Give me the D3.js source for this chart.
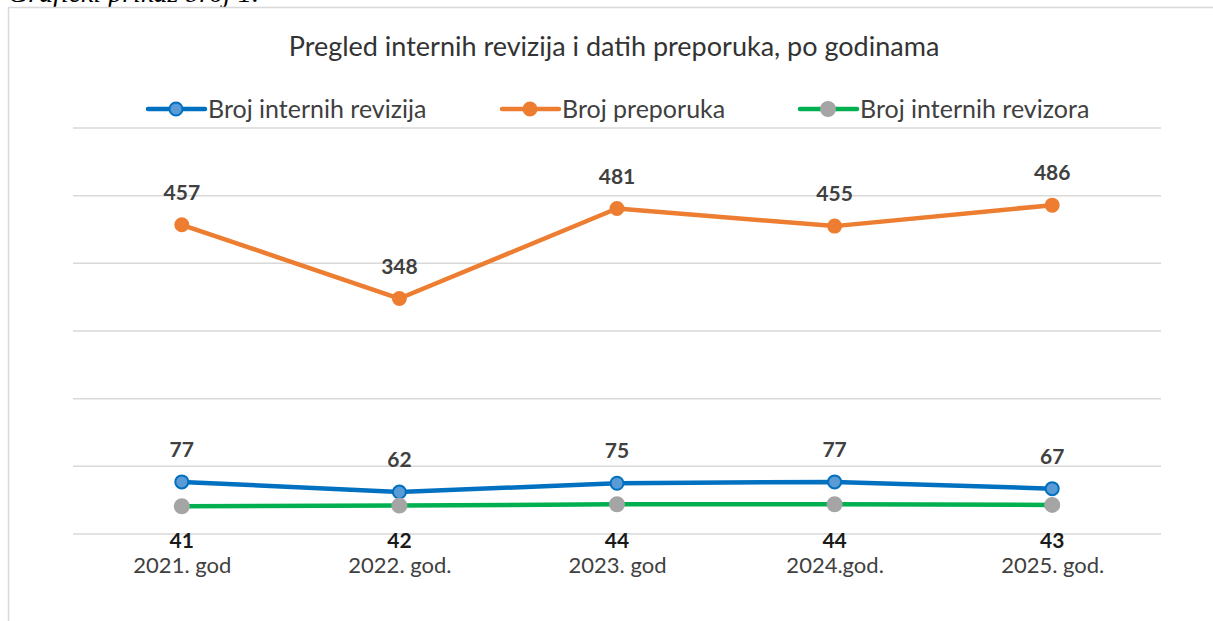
<!DOCTYPE html>
<html>
<head>
    <meta charset="utf-8">
    <title>Pregled internih revizija</title>
    <style>
        body { margin: 0; background: #fff; }
        svg { display: block; font-family: Lato, "Open Sans", sans-serif; }
    </style>
</head>
<body>
    <script src="https://cdnjs.cloudflare.com/ajax/libs/d3/7.8.5/d3.min.js"></script>
    <script>

var years = ["2021. god", "2022. god.", "2023. god", "2024.god.", "2025. god."];
var revizije = [77, 62, 75, 77, 67];
var preporuke = [457, 348, 481, 455, 486];
var revizori = [41, 42, 44, 44, 43];
var yTicks = [0, 100, 200, 300, 400, 500, 600];

var config = {
    width: 1213,
    height: 621,
    left: 73,
    right: 1161,
    top: 128,
    bottom: 534
};

var series = [
    { name: "Broj internih revizija", values: revizije, line: "#0070C0", fill: "#5B9BD5", stroke: "#0070C0", r: 6.5, label: "above", labelColor: "#404040", lx: 148 },
    { name: "Broj preporuka", values: preporuke, line: "#ED7D31", fill: "#ED7D31", stroke: "#ED7D31", r: 6.5, label: "above", labelColor: "#404040", lx: 502 },
    { name: "Broj internih revizora", values: revizori, line: "#00B050", fill: "#A5A5A5", stroke: "#A5A5A5", r: 7, label: "below", labelColor: "#1a1a1a", lx: 800 }
];

var svg = d3.select("body").append("svg")
    .attr("width", config.width)
    .attr("height", config.height);

// caption of the page, cut off at the top like in the source
svg.append("text")
    .attr("x", 8).attr("y", 2)
    .attr("font-family", "'Liberation Serif', serif")
    .attr("font-style", "italic")
    .attr("font-size", 28)
    .attr("fill", "#000")
    .text("Grafički prikaz broj 1.");

// chart box
svg.append("rect")
    .attr("x", 8.5).attr("y", 7.5)
    .attr("width", config.width).attr("height", config.height)
    .attr("fill", "#fff")
    .attr("stroke", "#d9d9d9")
    .attr("stroke-width", 1.5);

svg.append("text")
    .attr("x", 614).attr("y", 56)
    .attr("text-anchor", "middle")
    .attr("font-size", 27)
    .attr("fill", "#333")
    .text("Pregled internih revizija i datih preporuka, po godinama");

var x = d3.scalePoint().domain(years).range([config.left, config.right]).padding(0.5);
var y = d3.scaleLinear().domain([0, 600]).range([config.bottom, config.top]);

// gridlines
svg.append("g").selectAll("line").data(yTicks).enter().append("line")
    .attr("x1", config.left).attr("x2", config.right)
    .attr("y1", function (d) { return y(d); })
    .attr("y2", function (d) { return y(d); })
    .attr("stroke", "#d9d9d9")
    .attr("stroke-width", 1.5);

// category labels
var xAxis = svg.append("g")
    .attr("transform", "translate(0," + config.bottom + ")")
    .call(d3.axisBottom(x).tickSize(0).tickPadding(0));
xAxis.select(".domain").remove();
xAxis.selectAll("text")
    .attr("dy", null)
    .attr("y", 39)
    .attr("font-family", "Lato, 'Open Sans', sans-serif")
    .attr("font-size", 22)
    .attr("fill", "#404040");

var line = d3.line()
    .x(function (d, i) { return x(years[i]); })
    .y(function (d) { return y(d); });

series.forEach(function (s) {
    var g = svg.append("g");
    g.append("path")
        .attr("d", line(s.values))
        .attr("fill", "none")
        .attr("stroke", s.line)
        .attr("stroke-width", 4.5)
        .attr("stroke-linejoin", "round")
        .attr("stroke-linecap", "round");
    g.selectAll("circle").data(s.values).enter().append("circle")
        .attr("cx", function (d, i) { return x(years[i]); })
        .attr("cy", function (d) { return y(d); })
        .attr("r", s.r)
        .attr("fill", s.fill)
        .attr("stroke", s.stroke)
        .attr("stroke-width", 2);
    g.selectAll("text").data(s.values).enter().append("text")
        .attr("x", function (d, i) { return x(years[i]); })
        .attr("y", function (d) { return s.label == "above" ? y(d) - 25 : config.bottom + 14; })
        .attr("text-anchor", "middle")
        .attr("font-size", 21)
        .attr("font-weight", "bold")
        .attr("fill", s.labelColor)
        .text(function (d) { return d; });

    // legend
    var lg = svg.append("g").attr("transform", "translate(" + s.lx + ",109)");
    lg.append("line")
        .attr("x1", 0).attr("x2", 57)
        .attr("stroke", s.line).attr("stroke-width", 4.5).attr("stroke-linecap", "round");
    lg.append("circle")
        .attr("cx", 28).attr("r", s.r)
        .attr("fill", s.fill).attr("stroke", s.stroke).attr("stroke-width", 2);
    lg.append("text")
        .attr("x", 60).attr("y", 9)
        .attr("font-size", 25)
        .attr("fill", "#404040")
        .text(s.name);
});
    </script>
</body>
</html>
